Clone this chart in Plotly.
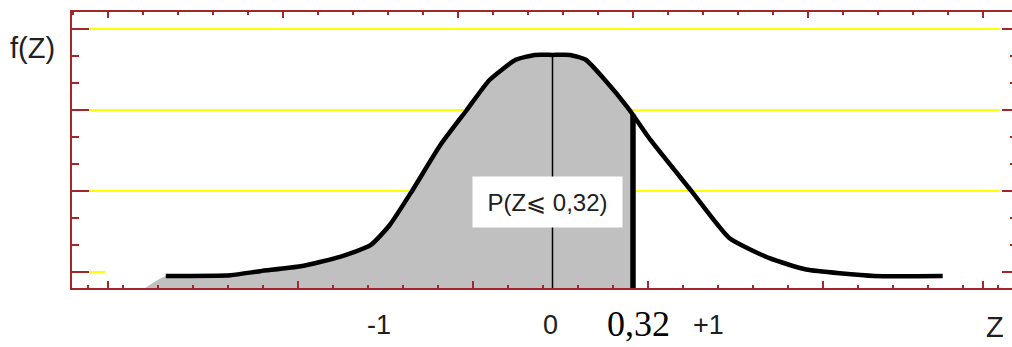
import plotly.graph_objects as go

# courbe f(Z) (unités du dessin)
courbe_x = [0.33, 0.70, 0.87, 1.10, 1.33, 1.50, 1.61, 1.74, 1.90, 2.05, 2.18, 2.33, 2.44,
            2.54, 2.64, 2.73, 2.84, 2.97, 3.00, 3.10, 3.33, 3.55, 3.78, 3.99, 4.38, 4.77]
courbe_y = [-0.05, -0.04, 0.01, 0.07, 0.19, 0.33, 0.58, 1.01, 1.57, 2.00, 2.37, 2.62, 2.68,
            2.68, 2.68, 2.62, 2.37, 2.03, 1.94, 1.63, 1.01, 0.42, 0.17, 0.03, -0.05, -0.05]

moyenne_x = 2.54      # trait vertical Z = 0
coupure_x = 3.00      # Z = 0,32
remplissage_debut = 0.21
bas = -0.2

# étiquettes de l'axe Z
etiquettes = ["-1", "0", "+1"]
etiquettes_x = [1.55, 2.53, 3.43]
coupure_texte = "0,32"
proba_texte = "P(Z\u2a7d 0,32)"

# graduations
grad_bas = [0, 1.088, 2.088, 3.088, 4.088, 5]
niveaux = [1, 2, 3]

rouge = "#a3262a"
jaune = "#ffff00"
lissage = dict(shape="spline", smoothing=0.5)

fig = go.Figure()

# zone grise P(Z <= 0,32)
i_coupe = courbe_x.index(coupure_x)
fx = [remplissage_debut] + courbe_x[:i_coupe + 1] + [coupure_x]
fy = [bas] + courbe_y[:i_coupe + 1] + [bas]
fig.add_trace(go.Scatter(x=fx, y=fy, fill="toself", fillcolor="#c0c0c0",
                         line=dict(width=0, **lissage), mode="lines", hoverinfo="skip"))

# trait Z = 0
i_moy = courbe_x.index(moyenne_x)
fig.add_trace(go.Scatter(x=[moyenne_x, moyenne_x], y=[courbe_y[i_moy], bas], mode="lines",
                         line=dict(color="black", width=1.5)))

# courbe
fig.add_trace(go.Scatter(x=courbe_x, y=courbe_y, mode="lines",
                         line=dict(color="black", width=4.5, **lissage)))

# trait Z = 0,32
fig.add_trace(go.Scatter(x=[coupure_x, coupure_x], y=[courbe_y[i_coupe], bas], mode="lines",
                         line=dict(color="black", width=5.5)))

# trace vide pour les axes du haut et de droite
fig.add_trace(go.Scatter(x=[None], y=[None], xaxis="x2", yaxis="y2", hoverinfo="skip"))

# lignes jaunes
for n in niveaux:
    fig.add_shape(type="line", xref="paper", x0=0.018, x1=0.987, y0=n, y1=n,
                  line=dict(color=jaune, width=2), layer="below")
fig.add_shape(type="line", xref="paper", x0=0.018, x1=0.035, y0=0, y1=0,
              line=dict(color=jaune, width=2), layer="below")

# textes
police = dict(family="Liberation Sans", color="#202020")
for t, xx in zip(etiquettes, etiquettes_x):
    fig.add_annotation(x=xx, y=-0.134, yref="paper", text=t, showarrow=False,
                       xanchor="center", yanchor="middle", font=dict(police, size=27))
fig.add_annotation(x=coupure_x + 0.03, y=-0.13, yref="paper", text=coupure_texte, showarrow=False,
                   xanchor="center", yanchor="middle",
                   font=dict(family="Liberation Serif", size=36, color="black"))
fig.add_annotation(x=5.07, y=-0.14, yref="paper", text="Z", showarrow=False,
                   xanchor="center", yanchor="middle", font=dict(police, size=29))
fig.add_annotation(x=-0.0415, y=0.87, xref="paper", yref="paper", text="f(Z)", showarrow=False,
                   xanchor="center", yanchor="middle", font=dict(police, size=29))
fig.add_annotation(x=2.51, y=0.86, text=proba_texte, showarrow=False,
                   width=147, height=48, bgcolor="white", borderpad=1,
                   font=dict(police, size=24))

axe = dict(showgrid=False, zeroline=False, showticklabels=False, ticks="inside",
           tickcolor=rouge, tickwidth=2, linecolor=rouge, linewidth=2)

fig.update_layout(
    width=1012, height=347,
    margin=dict(l=72, r=0, t=12, b=59),
    plot_bgcolor="white", paper_bgcolor="white",
    showlegend=False,
    xaxis=dict(axe, range=[-0.206, 5.166], showline=True, tickmode="array", tickvals=grad_bas,
               ticklen=7, minor=dict(ticks="inside", ticklen=3, tick0=0.088, dtick=0.2,
                                     tickcolor=rouge, tickwidth=2)),
    xaxis2=dict(axe, range=[-0.206, 5.166], overlaying="x", side="top", showline=True,
                tick0=0, dtick=1, ticklen=6,
                minor=dict(ticks="inside", ticklen=3, dtick=0.2, tickcolor=rouge, tickwidth=2)),
    yaxis=dict(axe, range=[-0.198, 3.21], showline=True, tick0=0, dtick=1, ticklen=17,
               minor=dict(ticks="inside", ticklen=7, dtick=1 / 3, tickcolor=rouge, tickwidth=2)),
    yaxis2=dict(axe, range=[-0.198, 3.21], overlaying="y", side="right", showline=False,
                tick0=0, dtick=1, ticklen=10,
                minor=dict(ticks="inside", ticklen=2, dtick=1 / 3, tickcolor=rouge, tickwidth=2)),
)

# pas de marge autour de la page
fig.write_html("out.html", config={"displayModeBar": False},
               post_script="document.body.style.margin='0';")
